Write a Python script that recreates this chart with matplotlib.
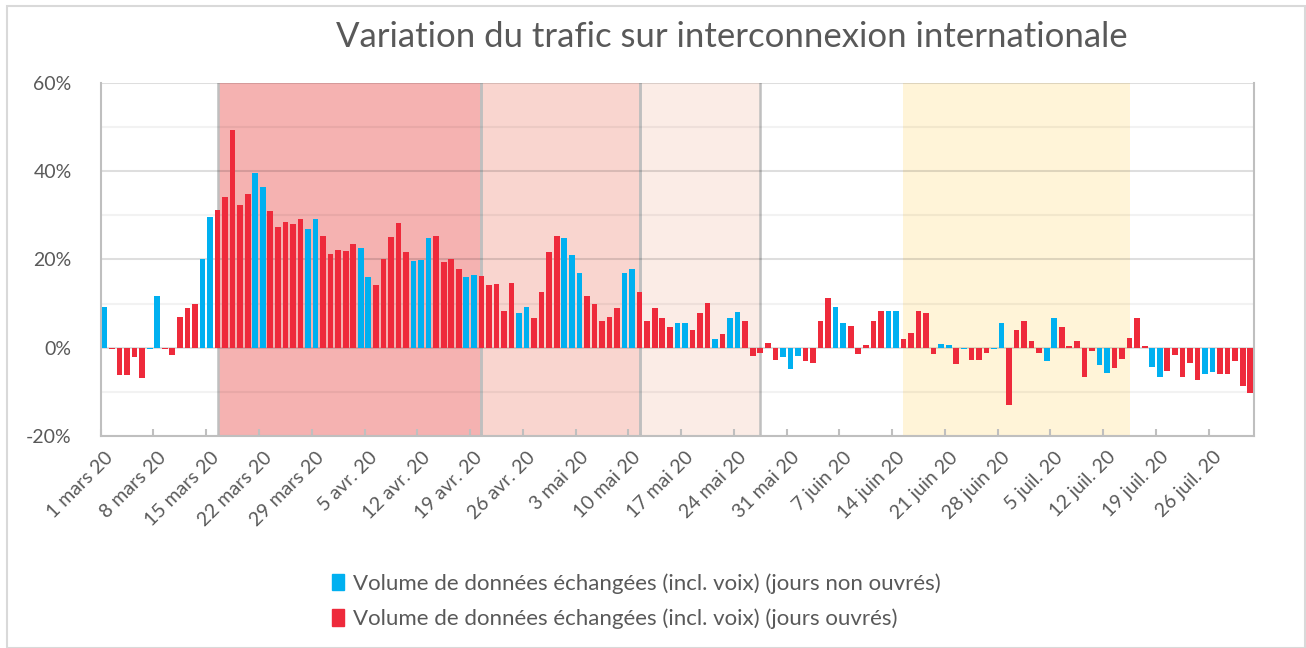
import numpy as np
import pandas as pd
import matplotlib
matplotlib.use("Agg")
import matplotlib.pyplot as plt
from matplotlib.patches import Patch
from matplotlib.ticker import MultipleLocator, FixedLocator, FuncFormatter

plt.rcParams["font.family"] = ["Lato", "DejaVu Sans"]

# daily variation (%), 1 March 2020 -> 31 July 2020
variation = [
    9.2, -0.3, -6.2, -6.2, -2.2, -6.8, -0.2, 11.8, -0.2, -1.6,
    6.9, 8.9, 10.0, 20.1, 29.7, 31.2, 34.1, 49.4, 32.3, 34.9,
    39.5, 36.3, 30.9, 27.4, 28.5, 27.9, 29.1, 26.8, 29.1, 25.4,
    21.3, 22.2, 21.9, 23.4, 22.5, 15.9, 14.1, 20.1, 25.1, 28.2,
    21.6, 19.6, 19.9, 24.8, 25.4, 19.3, 20.1, 17.9, 15.9, 16.5,
    16.2, 14.1, 14.4, 8.4, 14.7, 7.8, 9.2, 6.7, 12.7, 21.6,
    25.4, 24.8, 21.0, 16.8, 11.8, 9.8, 6.1, 7.0, 8.9, 16.8,
    17.9, 12.7, 6.1, 8.9, 6.7, 4.6, 5.5, 5.5, 4.0, 7.8,
    10.1, 2.0, 3.1, 6.7, 8.1, 6.1, -1.9, -1.1, 1.1, -2.8,
    -2.2, -4.9, -1.9, -3.1, -3.4, 6.1, 11.2, 9.2, 5.5, 4.9,
    -1.4, 0.6, 6.1, 8.4, 8.4, 8.4, 2.0, 3.4, 8.4, 7.8,
    -1.4, 0.9, 0.6, -3.7, -0.2, -2.8, -2.8, -1.1, -0.2, 5.5,
    -13.0, 4.0, 6.1, 1.4, -1.1, -3.1, 6.7, 4.6, 0.3, 1.4,
    -6.6, -0.8, -4.0, -5.7, -4.6, -2.5, 2.3, 6.7, 0.3, -4.3,
    -6.6, -5.2, -1.7, -6.6, -3.4, -7.4, -6.0, -5.5, -6.0, -6.0,
    -3.1, -8.6, -10.3,
]

# day indices (0 = 1 March) shown as "jours non ouvrés"
non_ouvres = [0, 6, 7, 13, 14, 20, 21, 27, 28, 34, 35, 41, 42, 43, 48, 49,
              55, 56, 61, 62, 63, 69, 70, 76, 77, 81, 83, 84, 90, 91, 92,
              97, 98, 104, 105, 111, 112, 114, 118, 119, 125, 126, 132, 133,
              139, 140, 146, 147]

tick_labels = ["1 mars 20", "8 mars 20", "15 mars 20", "22 mars 20", "29 mars 20",
               "5 avr. 20", "12 avr. 20", "19 avr. 20", "26 avr. 20", "3 mai 20",
               "10 mai 20", "17 mai 20", "24 mai 20", "31 mai 20", "7 juin 20",
               "14 juin 20", "21 juin 20", "28 juin 20", "5 juil. 20", "12 juil. 20",
               "19 juil. 20", "26 juil. 20"]

series_labels = ["Volume de données échangées (incl. voix) (jours non ouvrés)",
                 "Volume de données échangées (incl. voix) (jours ouvrés)"]

# shaded periods (start, end) in day index, colour
periodes = [(15, 50, "#F5B2B1"), (50, 71, "#F9D5CF"), (71, 87, "#FBECE6")]
periode_ete = (106, 136, "#FFF4D8")

dates = pd.date_range("2020-03-01", periods=len(variation), freq="D")
x = np.arange(len(dates))
vals = np.array(variation)
mask_n = np.isin(x, non_ouvres)

BLUE = "#00B0F0"
RED = "#EE2A3B"
GREY = "#595959"

fig = plt.figure(figsize=(13.06, 6.48), dpi=100)
fig.patches.append(plt.Rectangle((7 / 1306, 0.0), 1298 / 1306, 1 - 6 / 648,
                                 transform=fig.transFigure, fill=False,
                                 edgecolor="#D9D9D9", lw=1.5))
ax = fig.add_axes([100.7 / 1306, 1 - 436 / 648, (1254 - 100.7) / 1306, (436 - 82.7) / 648])

for a, b, c in periodes:
    ax.axvspan(a, b, color=c, zorder=0, lw=0)
    ax.axvline(a, color="#BFBFBF", lw=1.8, zorder=1)
    ax.axvline(b, color="#BFBFBF", lw=1.8, zorder=1)
ax.axvspan(periode_ete[0], periode_ete[1], color=periode_ete[2], zorder=0, lw=0)

ax.bar(x[mask_n], vals[mask_n], width=0.75, color=BLUE, zorder=3)
ax.bar(x[~mask_n], vals[~mask_n], width=0.75, color=RED, zorder=3)

ax.set_xlim(-0.5, len(x) - 0.5)
ax.set_ylim(-20, 60)
ax.yaxis.set_major_locator(MultipleLocator(20))
ax.yaxis.set_minor_locator(MultipleLocator(10))
ax.yaxis.set_major_formatter(FuncFormatter(lambda v, p: f"{v:.0f}%"))
ax.grid(axis="y", which="major", color="black", alpha=0.13, lw=1.5, zorder=2)
ax.grid(axis="y", which="minor", color="black", alpha=0.05, lw=1.5, zorder=2)

label_pos = np.arange(0, len(x), 7)
ax.xaxis.set_major_locator(FixedLocator(label_pos))
ax.set_xticklabels(tick_labels, rotation=45, ha="right", va="top",
                   rotation_mode="anchor", fontsize=14, color=GREY)
ax.xaxis.set_minor_locator(FixedLocator(label_pos - 0.5))
ax.tick_params(axis="x", which="major", length=0, pad=9)
ax.tick_params(axis="x", which="minor", length=5, direction="in", color="#BFBFBF", width=1.5)
ax.tick_params(axis="y", which="both", length=0, labelsize=14, labelcolor=GREY, pad=21)

for s in ["left", "bottom", "right"]:
    ax.spines[s].set_color("#BFBFBF")
    ax.spines[s].set_linewidth(1.5)
ax.spines["top"].set_visible(False)

fig.text(732 / 1306, 1 - 37 / 648, "Variation du trafic sur interconnexion internationale",
         ha="center", va="center", fontsize=25, color=GREY)

handles = [Patch(color=BLUE), Patch(color=RED)]
fig.legend(handles, series_labels,
           loc="upper left", bbox_to_anchor=(312 / 1306, 1 - 553 / 648),
           frameon=False, fontsize=16, labelcolor=GREY,
           handlelength=0.55, handleheight=0.75, handletextpad=0.4, labelspacing=0.68)

fig.savefig("out.png", dpi=100)
